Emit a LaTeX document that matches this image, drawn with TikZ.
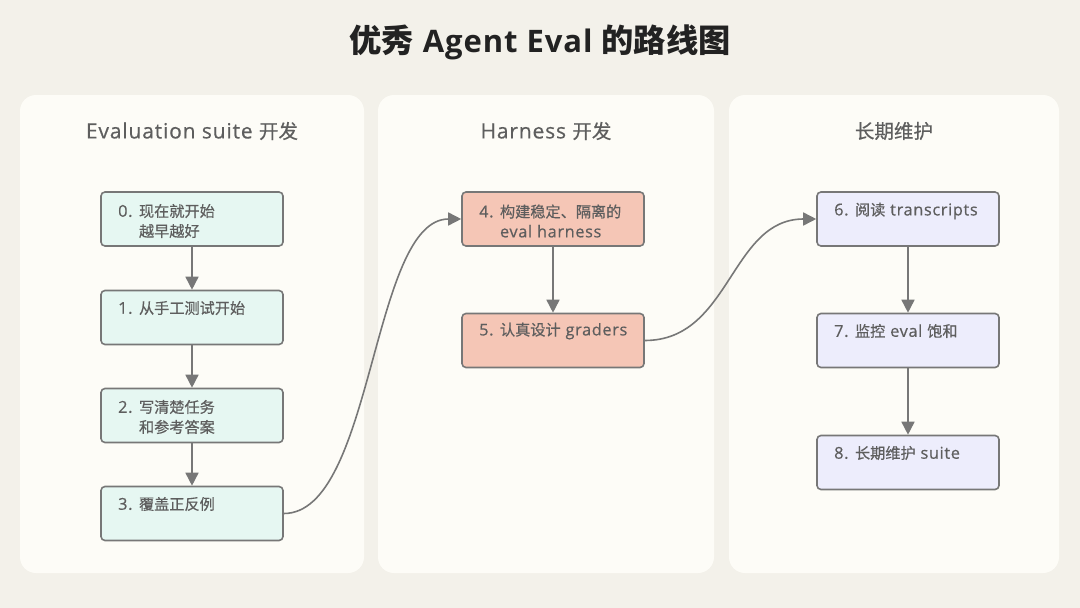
\documentclass[tikz,border=0pt]{standalone}
\usepackage{fontspec}
\setmainfont{Open Sans}[LetterSpace=4, FakeBold=0.5]
\newfontfamily\cjk{Noto Sans CJK SC}[Scale=0.93, FakeBold=0.5]
\newfontfamily\cjkT{Noto Sans CJK SC}[Scale=1.04]
\newfontfamily\titlefont{Open Sans}[LetterSpace=3]
\newcommand{\zh}[1]{{\cjk #1}}
\newcommand{\zhT}[1]{{\cjkT\bfseries #1}}
\usetikzlibrary{arrows.meta}
\definecolor{bgc}{HTML}{F3F1EA}
\definecolor{panelc}{HTML}{FDFCF7}
\definecolor{mintc}{HTML}{E6F7F2}
\definecolor{salmonc}{HTML}{F5C6B6}
\definecolor{lavc}{HTML}{EDEDFC}
\definecolor{edgec}{HTML}{777777}
\definecolor{txtc}{HTML}{5E5E5E}
\definecolor{titlec}{HTML}{222222}
\tikzset{
  panel/.style={fill=panelc, draw=none, rounded corners=16pt},
  boxbase/.style={draw=edgec, line width=1.6pt, rounded corners=4pt, minimum width=182pt, minimum height=54pt, inner sep=0pt},
  mintbox/.style={boxbase, fill=mintc},
  salmonbox/.style={boxbase, fill=salmonc},
  lavbox/.style={boxbase, fill=lavc},
  boxtext/.style={text=txtc, font=\fontsize{16.3}{20}\selectfont, align=left, inner sep=0pt, anchor=west},
  ptitle/.style={text=txtc, font=\fontsize{21}{24}\selectfont, inner sep=0pt},
  conn/.style={draw=edgec, line width=1.6pt, -{Triangle[length=13pt,width=13pt]}},
}
\newcommand{\ind}{\hphantom{0. }}
\begin{document}
\begin{tikzpicture}[x=1pt,y=-1pt]
\useasboundingbox[fill=bgc] (0,0) rectangle (1080,608);
% title
\node[text=titlec, font=\titlefont\fontsize{31}{36}\selectfont\bfseries, inner sep=0pt] (title) at (540,42) {\zhT{优秀} Agent Eval \zhT{的路线图}};
% panels
\path[panel] (20,95) rectangle (364,573);
\path[panel] (378,95) rectangle (714,573);
\path[panel] (729,95) rectangle (1059,573);
\node[ptitle] (pt1) at (192,131) {Evaluation suite \zh{开发}};
\node[ptitle] (pt2) at (546,131) {Harness \zh{开发}};
\node[ptitle] (pt3) at (894,131) {\zh{长期维护}};
% column 1
\node[mintbox] (b0) at (192,219) {};
\node[mintbox] (b1) at (192,317.5) {};
\node[mintbox] (b2) at (192,415.5) {};
\node[mintbox] (b3) at (192,513.5) {};
\node[boxtext] (t0) at (118,221) {0. \zh{现在就开始}\\\ind\zh{越早越好}};
\node[boxtext] (t1) at (118,308) {1. \zh{从手工测试开始}};
\node[boxtext] (t2) at (118,417) {2. \zh{写清楚任务}\\\ind\zh{和参考答案}};
\node[boxtext] (t3) at (118,504) {3. \zh{覆盖正反例}};
% column 2
\node[salmonbox] (b4) at (553,219) {};
\node[salmonbox] (b5) at (553,340.5) {};
\node[boxtext] (t4) at (479,221) {4. \zh{构建稳定、隔离的}\\\ind eval harness};
\node[boxtext] (t5) at (479,331) {5. \zh{认真设计} graders};
% column 3
\node[lavbox] (b6) at (908,219) {};
\node[lavbox] (b7) at (908,340.5) {};
\node[lavbox] (b8) at (908,462.5) {};
\node[boxtext] (t6) at (834,211) {6. \zh{阅读} transcripts};
\node[boxtext] (t7) at (834,331) {7. \zh{监控} eval \zh{饱和}};
\node[boxtext] (t8) at (834,453) {8. \zh{长期维护} suite};
% connectors
\draw[conn] (b0.south) -- (b1.north);
\draw[conn] (b1.south) -- (b2.north);
\draw[conn] (b2.south) -- (b3.north);
\draw[conn] (b4.south) -- (b5.north);
\draw[conn] (b6.south) -- (b7.north);
\draw[conn] (b7.south) -- (b8.north);
\draw[conn] (b3.east) .. controls +(90,0) and +(-90,0) .. (b4.west);
\draw[conn] (b5.east) .. controls +(86,0) and +(-86,0) .. (b6.west);
\end{tikzpicture}
\end{document}
